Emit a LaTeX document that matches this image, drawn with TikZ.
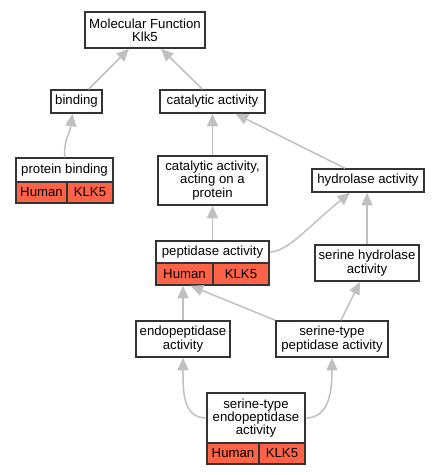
\documentclass[tikz,border=0pt]{standalone}
\usepackage{fontspec}
\setmainfont{Liberation Sans}
\usetikzlibrary{arrows.meta}
\definecolor{tomatored}{RGB}{255,99,71}
\definecolor{edgegray}{RGB}{192,192,192}
\begin{document}
\begin{tikzpicture}[x=1pt,y=-1pt,
  box/.style={draw=black!80, line width=1.5pt, fill=white, align=center, inner sep=0pt,
    font=\fontsize{13.2}{13.3}\selectfont},
  cell/.style={box, fill=tomatored},
  edge/.style={draw=edgegray, line width=1.5pt, -{Triangle[length=12.5pt,width=11pt]}}]
\useasboundingbox (0,0) rectangle (440,475);
% nodes
\node[box, minimum width=120pt, minimum height=36pt] (mf) at (145,30) {Molecular Function\\Klk5};
\node[box, minimum width=51pt, minimum height=23pt] (bind) at (76.5,101.5) {binding};
\node[box, minimum width=105pt, minimum height=23pt] (cat) at (212.5,101.5) {catalytic activity};
\node[box, minimum width=97pt, minimum height=24pt] (pb) at (64.5,170) {protein binding};
\node[cell, minimum width=51pt, minimum height=21pt] (pbh) at (41.5,192.5) {Human};
\node[cell, minimum width=46pt, minimum height=21pt] (pbk) at (90,192.5) {KLK5};
\node[box, minimum width=109pt, minimum height=49pt] (cap) at (212.5,180.5) {catalytic activity,\\acting on a\\protein};
\node[box, minimum width=112pt, minimum height=23pt] (hyd) at (368,180.5) {hydrolase activity};
\node[box, minimum width=113pt, minimum height=22pt] (pep) at (212.5,252) {peptidase activity};
\node[cell, minimum width=57pt, minimum height=22pt] (peph) at (184.5,274) {Human};
\node[cell, minimum width=56pt, minimum height=22pt] (pepk) at (241,274) {KLK5};
\node[box, minimum width=104pt, minimum height=36pt] (sh) at (367,263) {serine hydrolase\\activity};
\node[box, minimum width=94pt, minimum height=36pt] (endo) at (183,339) {endopeptidase\\activity};
\node[box, minimum width=112pt, minimum height=36pt] (stp) at (332,339) {serine-type\\peptidase activity};
\node[box, minimum width=98pt, minimum height=50pt] (ste) at (256,418) {serine-type\\endopeptidase\\activity};
\node[cell, minimum width=52pt, minimum height=21pt] (steh) at (233,453.5) {Human};
\node[cell, minimum width=46pt, minimum height=21pt] (stek) at (282,453.5) {KLK5};
% edges
\draw[edge] ([xshift=12pt]bind.north) -- ([xshift=-16pt]mf.south);
\draw[edge] ([xshift=-10pt]cat.north) -- ([xshift=16pt]mf.south);
\draw[edge] (pb.north) .. controls +(0,-22) and +(-3,22) .. ([xshift=-4pt]bind.south);
\draw[edge] (cap.north) -- (cat.south);
\draw[edge] ([xshift=-23pt]hyd.north) -- ([xshift=23pt]cat.south);
\draw[edge] (pep.north) -- (cap.south);
\draw[edge] (pep.east) .. controls +(18,0) and +(-42,34) .. ([xshift=-18pt]hyd.south);
\draw[edge] (sh.north) -- (sh.north |- hyd.south);
\draw[edge] (endo.north) -- (endo.north |- peph.south);
\draw[edge] (stp.north west) -- ([xshift=6pt]peph.south);
\draw[edge] ([xshift=9pt]stp.north) -- ([xshift=-7pt]sh.south);
\draw[edge] (ste.west) .. controls +(-24,0) and +(0,32) .. (endo.south);
\draw[edge] (ste.east) .. controls +(24,0) and +(0,32) .. (stp.south);
\end{tikzpicture}
\end{document}
